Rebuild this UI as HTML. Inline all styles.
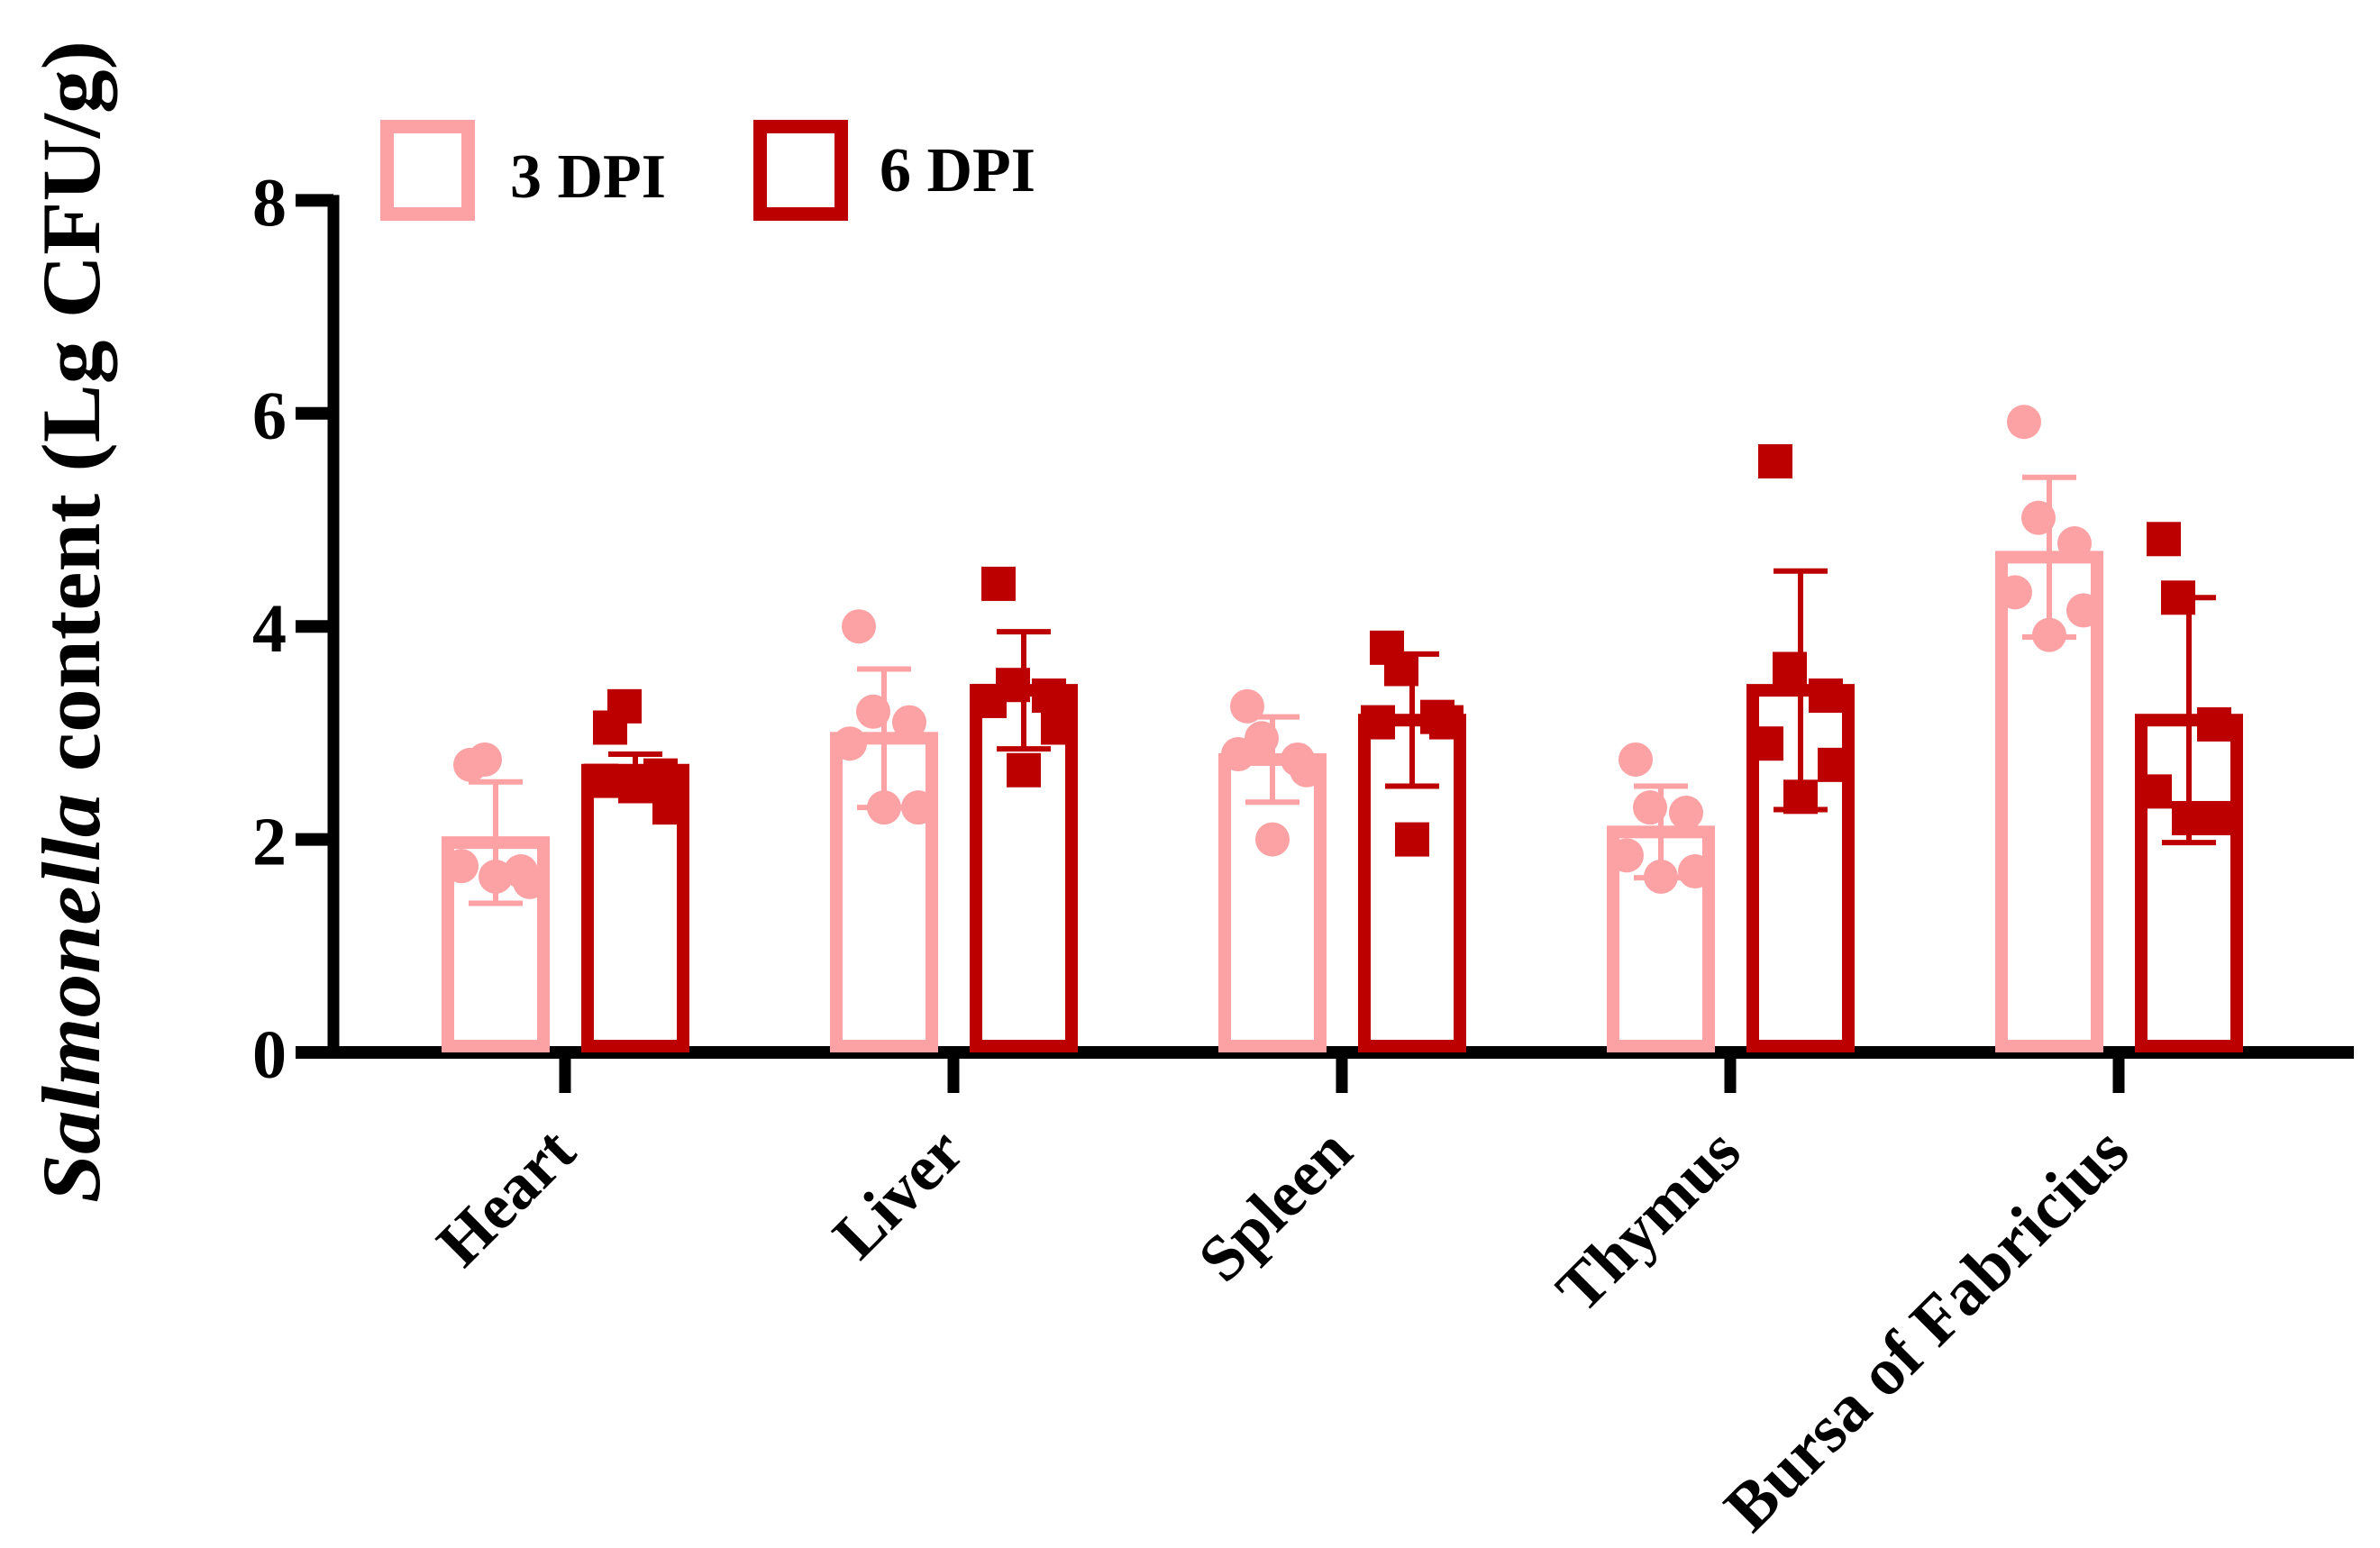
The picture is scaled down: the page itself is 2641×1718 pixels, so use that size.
<!DOCTYPE html>
<html><head><meta charset="utf-8"><style>
html,body{margin:0;padding:0;background:#fff;}
svg{display:block;}
text{font-family:"Liberation Serif",serif;font-weight:bold;fill:#000;}
</style></head><body>
<svg id="chart" width="2641" height="1718" viewBox="0 0 2641 1718" xmlns="http://www.w3.org/2000/svg">
<g id="axes"></g>
<g id="bars"></g>
<g id="legend">
  <rect x="429.5" y="140.5" width="90" height="97" fill="none" stroke="#fca2a4" stroke-width="15"/>
  <text x="566" y="219" font-size="70">3 DPI</text>
  <rect x="843.5" y="140.5" width="90" height="97" fill="none" stroke="#bc0000" stroke-width="15"/>
  <text x="976" y="212" font-size="70">6 DPI</text>
</g>
<text transform="translate(110,690) rotate(-90)" text-anchor="middle" font-size="92" textLength="1290" lengthAdjust="spacingAndGlyphs"><tspan font-style="italic">Salmonella</tspan>  content (Lg CFU/g)</text>
</svg>
<script>
const categories = ["Heart","Liver","Spleen","Thymus","Bursa of Fabricius"];
const mean3 = [1.97, 2.95, 2.75, 2.07, 4.65];
const sd3 = [0.57, 0.65, 0.40, 0.43, 0.75];
const mean6 = [2.65, 3.40, 3.12, 3.40, 3.12];
const sd6 = [0.15, 0.55, 0.62, 1.12, 1.15];
const pts3 = [[2.7,2.75,1.7,1.75,1.6,1.65],[4.0,3.2,3.1,2.9,2.3,2.3],[3.25,2.95,2.75,2.8,2.65,2.0],[2.75,2.3,2.25,1.85,1.7,1.65],[5.92,5.02,4.78,4.32,4.15,3.92]];
const pts6 = [[3.05,3.25,2.6,2.55,2.3,2.5],[4.4,3.45,3.35,3.3,3.05,2.65],[3.8,3.6,3.15,3.1,3.1,2.0],[5.55,3.6,3.35,2.9,2.7,2.4],[4.82,4.27,3.08,2.45,2.2,2.2]];
const yTicks = [0,2,4,6,8];

const NS="http://www.w3.org/2000/svg";
const y0=1168, yPer=118.2;
const yScale=v=>y0-v*yPer;
const xCat=i=>627+i*431;
const PINK="#fca2a4", RED="#bc0000";
function mk(tag,attrs,parent){const e=document.createElementNS(NS,tag);for(const k in attrs)e.setAttribute(k,attrs[k]);parent.appendChild(e);return e;}
const axes=document.getElementById('axes'), bars=document.getElementById('bars');

let e=mk('line',{x1:370,y1:yScale(8)-6,x2:370,y2:y0+7,stroke:'#000','stroke-width':13},axes);


e=mk('line',{x1:328,y1:y0,x2:2612,y2:y0,stroke:'#000','stroke-width':14},axes);


yTicks.forEach(t=>{
  let l=mk('line',{x1:328,x2:370,y1:yScale(t),y2:yScale(t),stroke:'#000','stroke-width':14},axes);
  
  
  let tx=mk('text',{x:318,y:yScale(t)+28,'text-anchor':'end','font-size':76},axes);
  tx.textContent=t;
  
  
});
categories.forEach((c,i)=>{
  let l=mk('line',{x1:xCat(i),x2:xCat(i),y1:y0,y2:y0+45,stroke:'#000','stroke-width':13},axes);
  
  
  const ex=xCat(i)+15, ey=1282;
  let tx=mk('text',{x:ex,y:ey,'text-anchor':'end','font-size':i==4?75:72,transform:`rotate(-45 ${ex} ${ey})`},axes);
  tx.textContent=c;
  
  
});

const jit=[-28,-12,28,-38,38,0];
function series(means,sds,pts,color,off,shape,tag){
  means.forEach((m,i)=>{
    const cx=xCat(i)+off, w=120, sw=14;
    let b=mk('rect',{x:cx-w/2+sw/2,y:yScale(m),width:w-sw,height:y0-yScale(m)-7,fill:'none',stroke:color,'stroke-width':sw},bars);
    
    
    pts[i].forEach((v,j)=>{
      const px=cx+jit[j], py=yScale(v);
      let p;
      if(shape==='circle') p=mk('circle',{cx:px,cy:py,r:19,fill:color},bars);
      else p=mk('rect',{x:px-19,y:py-19,width:38,height:38,fill:color},bars);
      
      
    });
    const g=mk('g',{stroke:color,'stroke-width':6},bars);
    
    
    mk('line',{x1:cx,x2:cx,y1:yScale(m+sds[i]),y2:yScale(m-sds[i])},g);
    mk('line',{x1:cx-30,x2:cx+30,y1:yScale(m+sds[i]),y2:yScale(m+sds[i])},g);
    mk('line',{x1:cx-30,x2:cx+30,y1:yScale(m-sds[i]),y2:yScale(m-sds[i])},g);
  });
}
series(mean3,sd3,pts3,PINK,-77,'circle','3dpi');
series(mean6,sd6,pts6,RED,78,'square','6dpi');
</script>
</body></html>
